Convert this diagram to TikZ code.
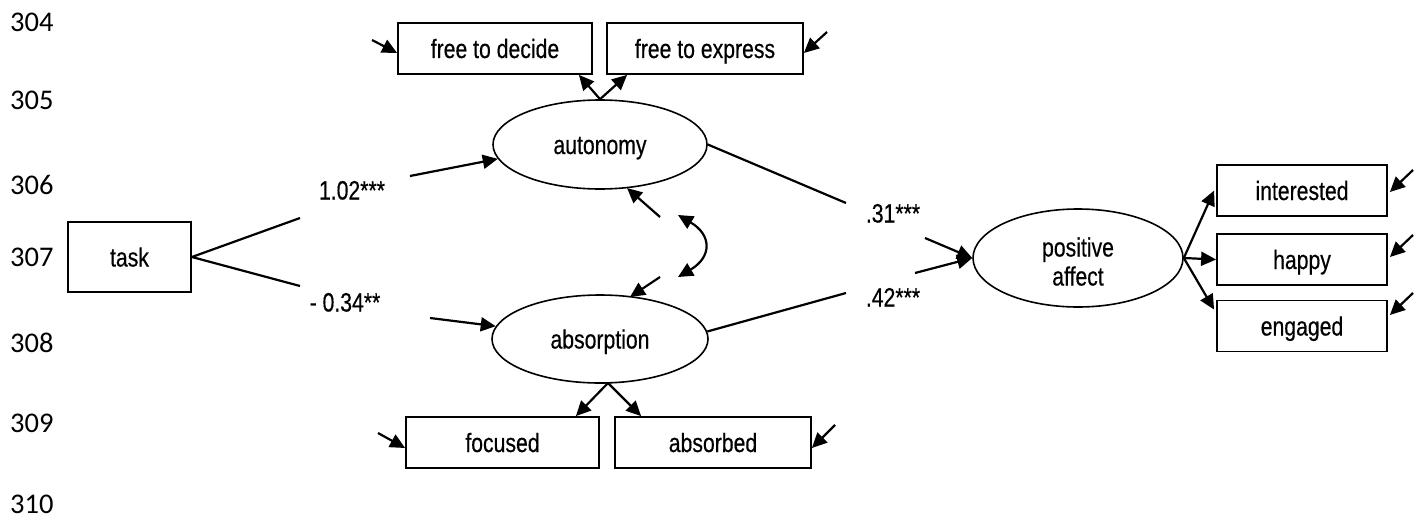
\documentclass[tikz,border=0pt]{standalone}
\usepackage{fontspec}
\setmainfont{Liberation Sans}[FakeStretch=0.8,FakeBold=0.4]
\newfontfamily\numfont{Carlito}
\usetikzlibrary{shapes.geometric,arrows.meta,calc}
\begin{document}
\begin{tikzpicture}[x=1pt,y=-1pt,
  txt/.style={font=\fontsize{26.5}{29}\selectfont},
  lbl/.style={txt, inner sep=0pt, text height=19pt, text depth=0pt},
  obs/.style={txt, draw, line width=1.8pt, minimum height=51pt, inner sep=0pt,
              text height=19pt, text depth=0pt},
  lat/.style={txt, ellipse, draw, line width=1.6pt, inner sep=0pt,
              text height=19pt, text depth=0pt},
  lnum/.style={font=\numfont\fontsize{28.5}{30}\selectfont, anchor=west, inner sep=0pt,
               text height=18pt, text depth=0pt},
  conn/.style={line width=2.2pt},
  tip/.tip={Triangle[length=15pt,width=14pt]},
  arr/.style={line width=2.2pt, -tip},
  dbl/.style={line width=2.2pt, tip-tip}]
\useasboundingbox (0,0) rectangle (1420,519);

% line numbers
\node[lnum] (n304) at (10,23)  {304};
\node[lnum] (n305) at (10,100) {305};
\node[lnum] (n306) at (10,185) {306};
\node[lnum] (n307) at (10,257) {307};
\node[lnum] (n308) at (10,343) {308};
\node[lnum] (n309) at (10,423) {309};
\node[lnum] (n310) at (10,504) {310};

% observed and latent variables
\node[obs, minimum width=123pt, minimum height=70pt] (task) at (129.5,257) {task};
\node[obs, minimum width=194pt] (fd)  at (495,48.5)  {free to decide};
\node[obs, minimum width=196pt] (fe)  at (705,48.5)  {free to express};
\node[obs, minimum width=193pt] (foc) at (502.5,442.5) {focused};
\node[obs, minimum width=196pt] (abd) at (713,442.5) {absorbed};
\node[obs, minimum width=170pt] (int) at (1302,190.5) {interested};
\node[obs, minimum width=170pt] (hap) at (1302,259.5) {happy};
\node[obs, minimum width=170pt] (eng) at (1302,326) {engaged};

\node[lat, minimum width=214pt, minimum height=89pt] (aut) at (600,144.5) {autonomy};
\node[lat, minimum width=216pt, minimum height=88pt] (abs) at (600,339) {absorption};
\node[lat, minimum width=210pt, minimum height=98pt, text height=0pt, text depth=0pt] (pa) at (1078,258) {};
\node[lbl] (pa1) at (1078,247) {positive};
\node[lbl] (pa2) at (1078,276) {affect};

% path coefficients
\node[lbl] (c1) at (352,190) {1.02***};
\node[lbl] (c2) at (345,302) {- 0.34**};
\node[lbl] (c3) at (893,213) {.31***};
\node[lbl] (c4) at (893,297) {.42***};

% free ends of the broken paths
\coordinate (t1) at (300,218);
\coordinate (s1) at (410,176);
\coordinate (t2) at (300,286);
\coordinate (s2) at (430,318);
\coordinate (t3) at (846,203);
\coordinate (s3) at (925,238);
\coordinate (t4) at (846,293);
\coordinate (s4) at (915,273);

\draw[conn] (task.east) -- (t1);
\draw[arr]  (s1) -- (aut.188);
\draw[conn] (task.east) -- (t2);
\draw[arr]  (s2) -- (abs.173);
\draw[conn] (aut.east) -- (t3);
\draw[arr]  (s3) -- (pa.west);
\draw[conn] (abs.4) -- (t4);
\draw[arr]  (s4) -- (pa.west);

% residual covariance
\coordinate (r1) at (660,217);
\coordinate (r2) at (660,277);
\coordinate (q1) at (627,188);
\coordinate (q2) at (630,297);
\coordinate (k1) at (678,215);
\coordinate (k2) at (678,277);
\draw[arr] (r1) -- (q1);
\draw[arr] (r2) -- (q2);
\draw[dbl] (k1) .. controls (712,235) and (712,257) .. (k2);

% measurement model: autonomy
\draw[arr] (aut.north) -- ($(fd.south east)+(-14,0)$);
\draw[arr] (aut.north) -- ($(fe.south west)+(21,0)$);
% measurement model: absorption
\coordinate (ab) at (608,383);
\draw[arr] (ab) -- ($(foc.north east)+(-24,0)$);
\draw[arr] (ab) -- ($(abd.north west)+(27,0)$);
% measurement model: positive affect
\draw[arr] (pa.east) -- ($(int.west)+(-2,0)$);
\draw[arr] (pa.east) -- (hap.west);
\draw[arr] (pa.east) -- ($(eng.north west)+(-2,10)$);

% error terms
\coordinate (e1) at (372,40);
\coordinate (e2) at (827,32);
\coordinate (e3) at (378,433);
\coordinate (e4) at (835,425);
\coordinate (e5) at (1413,170);
\coordinate (e6) at (1413,235);
\coordinate (e7) at (1413,293);
\draw[arr] (e1) -- ($(fd.west)+(0,4.5)$);
\draw[arr] (e2) -- ($(fe.east)+(0,4.5)$);
\draw[arr] (e3) -- ($(foc.west)+(0,5.5)$);
\draw[arr] (e4) -- ($(abd.east)+(0,5.5)$);
\draw[arr] (e5) -- ($(int.east)+(2,1.5)$);
\draw[arr] (e6) -- ($(hap.east)+(2,-2.5)$);
\draw[arr] (e7) -- ($(eng.east)+(2,-11)$);
\end{tikzpicture}
\end{document}
